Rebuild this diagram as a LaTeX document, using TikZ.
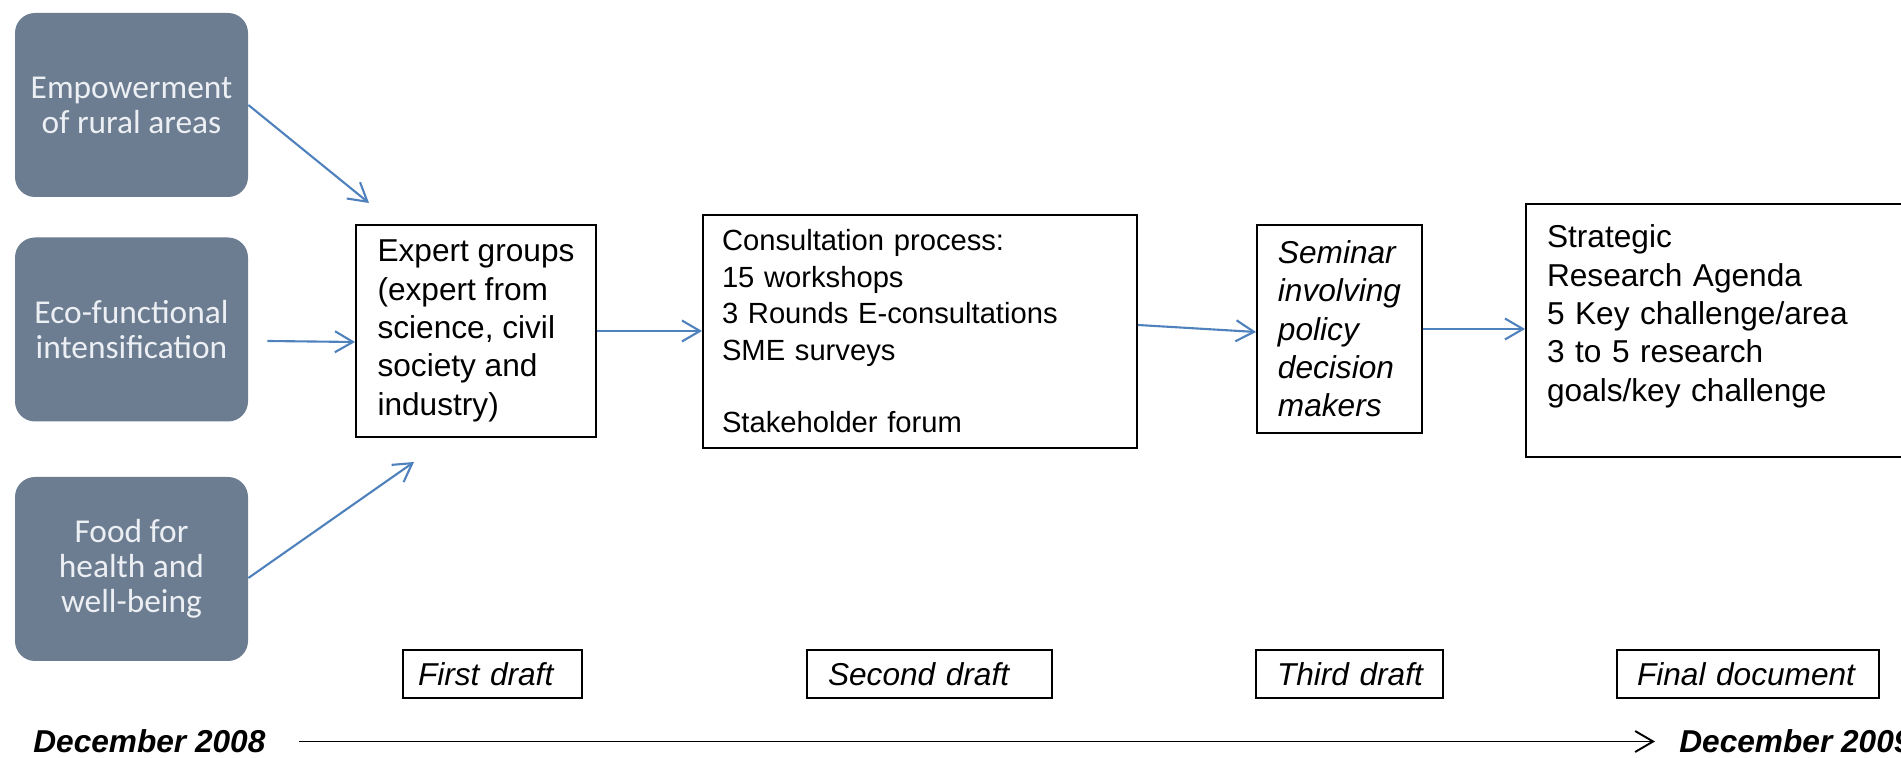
\documentclass[tikz,border=0pt]{standalone}
\usepackage{fontspec}
\setmainfont{Liberation Sans}
\newfontfamily\calfont{Carlito}
\definecolor{themegrey}{RGB}{109, 125, 145}
\definecolor{themetext}{RGB}{236, 239, 243}
\definecolor{flowblue}{RGB}{79, 129, 189}
\usetikzlibrary{arrows.meta, positioning, calc}

\begin{document}
\begin{tikzpicture}[
  theme/.style={fill=themegrey, rounded corners=0.4cm, minimum width=4.66cm, minimum height=3.68cm,
    align=center, text=themetext, font=\calfont\fontsize{19}{20}\selectfont},
  stagebox/.style={draw, line width=1.1pt, inner xsep=0.4cm, font=\fontsize{18}{21.8}\selectfont},
  draftbox/.style={draw, line width=1.1pt, minimum height=0.96cm, align=left, font=\fontsize{18}{21.8}\selectfont\itshape},
  flow/.style={flowblue, line width=1.2pt, -{Straight Barb[length=0.36cm, width=0.42cm]}},
  timeline/.style={inner sep=0pt, anchor=west, font=\fontsize{18}{21.8}\selectfont\bfseries\itshape}
]
  \useasboundingbox (0, 0) rectangle (38.02, 15.16);

  % Theme boxes
  \node[theme] (rural) at (2.63, 13.06) {Empowerment\\of rural areas};
  \node[theme] (eco) at (2.63, 8.57) {Eco-functional\\intensification};
  \node[theme] (food) at (2.63, 3.78) {Food for\\health and\\well-being};

  % Process stages
  \node[stagebox, align=left, minimum width=4.8cm, minimum height=4.24cm] (expert) at (9.52, 8.54)
    {Expert groups\\(expert from\\science, civil\\society and\\industry)};
  \node[stagebox, inner xsep=0.38cm, text width=7.92cm, align=left, minimum height=4.66cm,
    font=\fontsize{16.6}{20.7}\selectfont] (consult) at (18.4, 8.53)
    {Consultation process:\\15 workshops\\3 Rounds E-consultations\\SME surveys\\[20.7pt]Stakeholder forum};
  \node[stagebox, align=left, minimum width=3.3cm, minimum height=4.16cm,
    font=\fontsize{18}{21.8}\selectfont\itshape] (seminar) at (26.79, 8.58)
    {Seminar\\involving\\policy\\decision\\makers};
  \node[stagebox, inner xsep=0.42cm, text width=7.44cm, align=left, minimum height=5.06cm] (agenda) at (34.66, 8.55)
    {Strategic\\Research Agenda\\5 Key challenge/area\\3 to 5 research\\goals/key challenge\rule[-0.7cm]{0pt}{0pt}};

  % Theme arrows
  \draw[flow] (rural.east) -- ([shift={(0.28, 0.42)}]expert.north west);
  \draw[flow] ([shift={(0.38, -0.23)}]eco.east) -- ([yshift=-0.22cm]expert.west);
  \draw[flow] ([yshift=-0.18cm]food.east) -- ([shift={(1.18, -0.48)}]expert.south west);

  % Stage arrows
  \draw[flow] (expert.east) -- (expert.east -| consult.west);
  \draw[flow] ([yshift=0.13cm]consult.east) -- ([yshift=-0.06cm]seminar.west);
  \draw[flow] (seminar.east) -- (seminar.east -| agenda.west);

  % Drafts
  \node[draftbox, inner xsep=0.3cm, text width=2.98cm] (first) at (9.85, 1.68) {First~draft};
  \node[draftbox, inner xsep=0.42cm, text width=4.06cm] (second) at (18.59, 1.68) {Second~draft};
  \node[draftbox, inner xsep=0.42cm, text width=2.9cm] (third) at (26.99, 1.68) {Third~draft};
  \node[draftbox, inner xsep=0.4cm, text width=4.44cm] (final) at (34.96, 1.68) {Final~document};

  % Time line
  \node[timeline] (d2008) at (0.66, 0.33) {December 2008};
  \node[timeline] (d2009) at (33.58, 0.33) {December 2009};
  \draw[line width=1.1pt, -{Straight Barb[length=0.36cm, width=0.42cm]}] ([xshift=0.66cm]d2008.east) -- ([xshift=-0.48cm]d2009.west);
\end{tikzpicture}
\end{document}
